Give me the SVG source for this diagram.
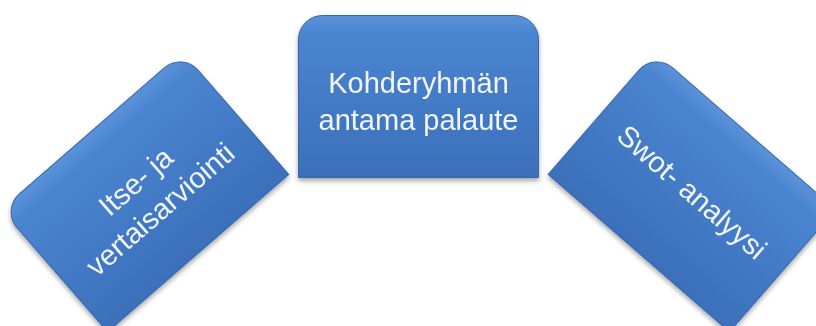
<svg xmlns="http://www.w3.org/2000/svg" width="816" height="326" viewBox="0 0 816 326">
  <defs>
    <linearGradient id="fillGrad" x1="0" y1="0" x2="0" y2="1">
      <stop offset="0" stop-color="#5b93da"/>
      <stop offset="0.12" stop-color="#4a84cf"/>
      <stop offset="1" stop-color="#3b70bb"/>
    </linearGradient>
    <filter id="shadow" x="-20%" y="-20%" width="140%" height="140%">
      <feDropShadow dx="0" dy="3" stdDeviation="2.5" flood-color="#000" flood-opacity="0.35"/>
    </filter>
    <path id="box" d="M -120,81 V -57 A 24 24 0 0 1 -96,-81 H 96 A 24 24 0 0 1 120,-57 V 81 Z"/>
  </defs>
  <style>
    .shape { fill: url(#fillGrad); stroke: #3566ab; stroke-width: 1; }
    .label { font-family: "Liberation Sans", Arial, sans-serif; font-size: 29px; fill: #f2f5fb; text-anchor: middle; }
  </style>
  <rect width="816" height="326" fill="#ffffff"/>
  <g id="connectors"/>
  <g id="node-left" filter="url(#shadow)">
    <g transform="translate(145,192) rotate(-41)">
      <use href="#box" class="shape"/>
      <text class="label" x="0" y="-4">Itse- ja</text>
      <text class="label" x="0" y="33">vertaisarviointi</text>
    </g>
  </g>
  <g id="node-center" filter="url(#shadow)">
    <g transform="translate(418.5,96.5)">
      <use href="#box" class="shape"/>
      <text class="label" x="0" y="-4">Kohderyhmän</text>
      <text class="label" x="0" y="33">antama palaute</text>
    </g>
  </g>
  <g id="node-right" filter="url(#shadow)">
    <g transform="translate(692,192) rotate(41)">
      <use href="#box" class="shape"/>
      <text class="label" x="0" y="10">Swot- analyysi</text>
    </g>
  </g>
</svg>
